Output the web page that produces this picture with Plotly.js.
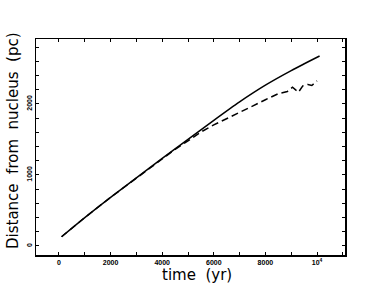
<!DOCTYPE html>
<html>
<head>
<meta charset="utf-8">
<script src="https://cdn.plot.ly/plotly-3.0.1.min.js"></script>
<style>html,body{margin:0;padding:0;background:#fff;}#chart{width:382px;height:295px;}</style>
</head>
<body>
<div id="chart"></div>
<script>
// Solid curve
const solidTime = [100, 1000, 2000, 3000, 4000, 5000, 6000, 7000, 8000, 9000, 10100];
const solidDist = [130, 400, 685, 960, 1235, 1500, 1770, 2030, 2265, 2470, 2675];
// Dashed curve
const dashTime = [100, 1000, 2000, 3000, 4000, 4500, 5000, 5500, 6000, 6500, 7000, 7500, 8000, 8500, 8850, 9050, 9280, 9450, 9650, 9800, 10000];
const dashDist = [130, 400, 685, 960, 1230, 1360, 1480, 1605, 1705, 1790, 1880, 1970, 2060, 2145, 2175, 2235, 2165, 2255, 2275, 2260, 2325];
// Tick labels
const xTickVals = [0, 2000, 4000, 6000, 8000, 10000];
const xTickText = ['0', '2000', '4000', '6000', '8000', '10<sup>4</sup>'];
const yTickVals = [0, 1000, 2000];
const yTickText = ['0', '1000', '2000'];

const traces = [
  {x: solidTime, y: solidDist, mode: 'lines', line: {color: '#000', width: 1.5, shape: 'spline', smoothing: 0.8}, hoverinfo: 'skip'},
  {x: dashTime, y: dashDist, mode: 'lines', line: {color: '#000', width: 1.5, dash: '7px,4px'}, hoverinfo: 'skip'}
];

const tickFont = {family: 'Liberation Sans, Arial, sans-serif', size: 7, color: '#000', weight: 'bold'};
const axisCommon = {
  showgrid: false, zeroline: false, showline: true, linecolor: '#000', linewidth: 1.5,
  mirror: 'ticks', ticks: 'inside', ticklen: 3, tickwidth: 1, tickcolor: '#000',
  tickmode: 'array', tickfont: tickFont, fixedrange: true
};

const layout = {
  width: 382, height: 295,
  margin: {l: 36, r: 37, t: 39, b: 40, pad: 0},
  paper_bgcolor: '#fff', plot_bgcolor: '#fff',
  showlegend: false,
  xaxis: Object.assign({}, axisCommon, {
    range: [-891, 11085], tickvals: xTickVals, ticktext: xTickText,
    minor: {dtick: 1000, tick0: 0, ticks: 'inside', ticklen: 3, tickcolor: '#000', tickwidth: 1}
  }),
  yaxis: Object.assign({}, axisCommon, {
    range: [-127, 2915], tickvals: yTickVals, ticktext: yTickText, tickangle: -90,
    minor: {dtick: 200, tick0: 0, ticks: 'inside', ticklen: 3, tickcolor: '#000', tickwidth: 1}
  }),
  annotations: [
    {text: 'time  (yr)', xref: 'paper', yref: 'paper', x: (197 - 36) / 309, y: -(275 - 255) / 216,
     xanchor: 'center', yanchor: 'middle', showarrow: false,
     font: {family: 'DejaVu Sans, sans-serif', size: 15, color: '#000'}},
    {text: 'Distance  from  nucleus  (pc)', xref: 'paper', yref: 'paper', x: -(36 - 13) / 309, y: (255 - 141) / 216,
     xanchor: 'center', yanchor: 'middle', textangle: -90, showarrow: false,
     font: {family: 'DejaVu Sans, sans-serif', size: 15, color: '#000'}}
  ]
};

Plotly.newPlot('chart', traces, layout, {staticPlot: true, displayModeBar: false});
</script>
</body>
</html>
